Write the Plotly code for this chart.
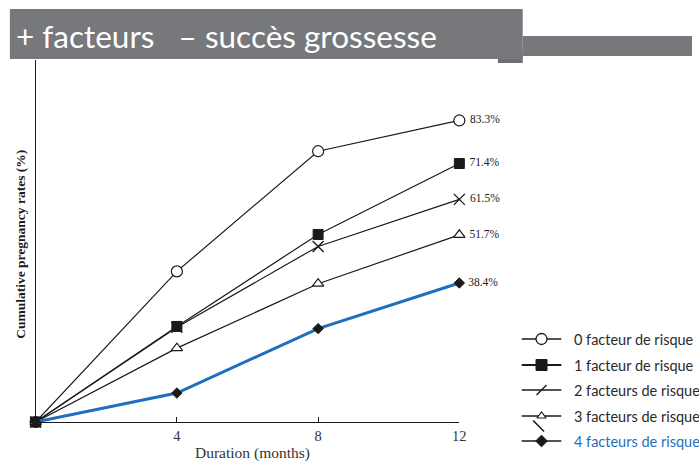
import plotly.graph_objects as go

W, H = 699, 461

# Months of follow-up and cumulative pregnancy rates (%) per number of risk factors
months = [0, 4, 8, 12]
rate_0 = [0, 41.6, 74.8, 83.3]
rate_1 = [0, 26.4, 51.8, 71.4]
rate_2 = [0, 26.2, 48.5, 61.5]
rate_3 = [0, 20.4, 38.2, 51.7]
rate_4 = [0, 8.0, 25.8, 38.4]

legend_labels = [
    "0 facteur de risque",
    "1 facteur de risque",
    "2 facteurs de risque",
    "3 facteurs de risque",
    "4 facteurs de risque",
]
x_ticks = [4, 8, 12]

title_text = "+ facteurs   \u2013 succès grossesse"
x_title = "Duration (months)"
y_title = "Cumulative pregnancy rates (%)"

BLACK = "#1a1a1a"
BLUE = "#1f6fc0"
GREY = "#77787b"
SERIF = "Liberation Serif"
SANS = "Lato"

series = [
    (rate_0, dict(symbol="circle", size=11, color="white", line=dict(color=BLACK, width=1.2)), BLACK, 1.2),
    (rate_1, dict(symbol="square", size=10, color=BLACK, line=dict(color=BLACK, width=1)), BLACK, 1.2),
    (rate_2, dict(symbol="x-thin-open", size=11, color=BLACK, line=dict(color=BLACK, width=1.4)), BLACK, 1.2),
    (rate_3, dict(symbol="triangle-up", size=10, color="white", line=dict(color=BLACK, width=1.2)), BLACK, 1.2),
    (rate_4, dict(symbol="diamond", size=8, color=BLACK, line=dict(color=BLACK, width=1)), BLUE, 3),
]

fig = go.Figure()

for vals, marker, lcolor, lwidth in series:
    labels = [""] * (len(vals) - 1) + [f" {vals[-1]}%"]
    fig.add_trace(go.Scatter(
        x=months, y=vals, mode="lines+markers+text",
        line=dict(color=lcolor, width=lwidth),
        marker=marker,
        text=labels, textposition="middle right",
        textfont=dict(family=SERIF, size=11.5, color=BLACK),
        cliponaxis=False, showlegend=False, hoverinfo="skip",
    ))

# Hand-drawn key on a pixel-coordinate axis pair spanning the whole figure
key_rows = [339, 365, 390, 416, 441]
key_x0, key_x1, key_mx, key_tx = 527, 567, 547, 578
key_markers = [
    dict(symbol="circle", size=11, color="white", line=dict(color=BLACK, width=1.3)),
    dict(symbol="square", size=11, color=BLACK, line=dict(color=BLACK, width=1)),
    dict(symbol="line-ne", size=10, color=BLACK, line=dict(color=BLACK, width=1.4)),
    dict(symbol="triangle-up", size=8, color="white", line=dict(color=BLACK, width=1.2)),
    dict(symbol="diamond", size=9, color=BLACK, line=dict(color=BLACK, width=1)),
]
key_widths = [1.4, 2, 1.4, 1.4, 1.6]
for ry, mk, lw in zip(key_rows, key_markers, key_widths):
    fig.add_trace(go.Scatter(
        x=[key_x0, key_x1], y=[ry, ry], mode="lines",
        line=dict(color=BLACK, width=lw),
        xaxis="x2", yaxis="y2", showlegend=False, hoverinfo="skip",
    ))
    fig.add_trace(go.Scatter(
        x=[key_mx], y=[ry], mode="markers", marker=mk,
        xaxis="x2", yaxis="y2", showlegend=False, hoverinfo="skip",
    ))
# small back-slash stroke above the last key row
fig.add_trace(go.Scatter(
    x=[key_mx - 3], y=[key_rows[-1] - 15], mode="markers",
    marker=dict(symbol="line-nw", size=11, color=BLACK, line=dict(color=BLACK, width=1.6)),
    xaxis="x2", yaxis="y2", showlegend=False, hoverinfo="skip",
))

annotations = []
for i, (ry, lab) in enumerate(zip(key_rows, legend_labels)):
    annotations.append(dict(
        x=key_tx, y=ry, xref="x2", yref="y2", text=lab, showarrow=False,
        xanchor="left", yanchor="middle",
        font=dict(family=SANS, size=14.5, color=BLUE if i == 4 else "#2a2a2a"),
    ))

annotations += [
    dict(x=20, y=244, xref="x2", yref="y2", text=f"<b>{y_title}</b>", textangle=-90,
         showarrow=False, font=dict(family=SERIF, size=13.5, color=BLACK)),
    dict(x=255, y=453, xref="x2", yref="y2", text=x_title, showarrow=False,
         font=dict(family=SERIF, size=15.5, color="#333333")),
    dict(x=14, y=36, xref="x2", yref="y2", text=title_text, showarrow=False,
         xanchor="left", yanchor="middle",
         font=dict(family=SANS, size=31.5, color="white")),
]

shapes = [
    dict(type="rect", xref="x2", yref="y2", x0=503, x1=528, y0=50, y1=63,
         fillcolor="#6e6f72", line=dict(width=0), layer="above"),
    dict(type="rect", xref="x2", yref="y2", x0=528, x1=699, y0=36, y1=56,
         fillcolor=GREY, line=dict(width=0), layer="above"),
    dict(type="rect", xref="x2", yref="y2", x0=10, x1=528, y0=9, y1=59,
         fillcolor=GREY, line=dict(width=0), layer="above"),
]

fig.update_layout(
    width=W, height=H,
    margin=dict(l=0, r=0, t=0, b=0),
    paper_bgcolor="white", plot_bgcolor="rgba(0,0,0,0)",
    xaxis=dict(
        domain=[36 / W, 464 / W], range=[0, 12],
        tickvals=x_ticks, ticktext=[str(t) for t in x_ticks],
        ticks="inside", ticklen=5, tickwidth=1, tickcolor=BLACK,
        showline=True, linecolor=BLACK, linewidth=1.2,
        showgrid=False, zeroline=False,
        tickfont=dict(family=SERIF, size=14.5, color="#333333"),
    ),
    yaxis=dict(
        domain=[39 / H, 401 / H], range=[0, 100],
        showticklabels=False, ticks="",
        showline=True, linecolor=BLACK, linewidth=1.2,
        showgrid=False, zeroline=False,
    ),
    xaxis2=dict(domain=[0, 1], range=[0, W], visible=False, anchor="y2"),
    yaxis2=dict(domain=[0, 1], range=[H, 0], visible=False, anchor="x2"),
    shapes=shapes,
    annotations=annotations,
)

fig.write_html("out.html")
